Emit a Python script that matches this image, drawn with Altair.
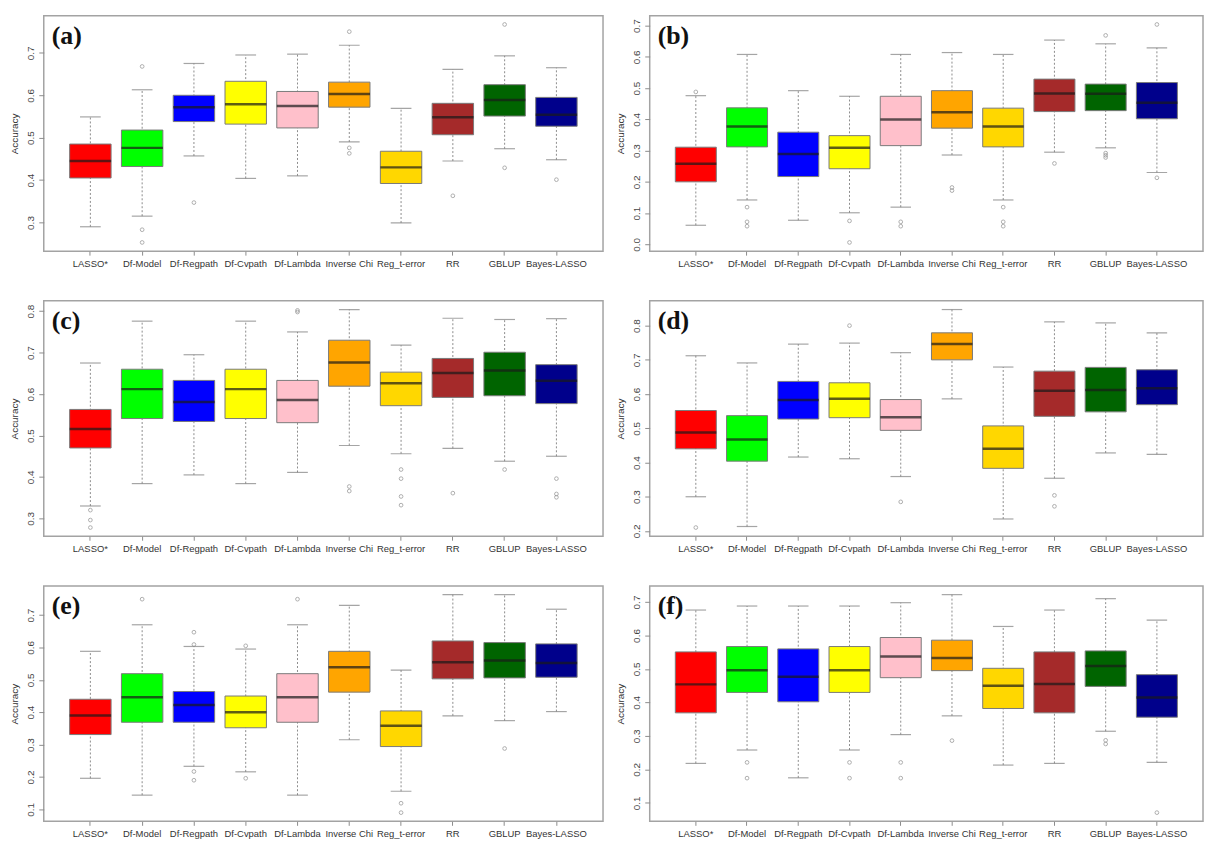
import altair as alt
import pandas as pd

METHODS = ["LASSO*", "Df-Model", "Df-Regpath", "Df-Cvpath", "Df-Lambda",
           "Inverse Chi", "Reg_t-error", "RR", "GBLUP", "Bayes-LASSO"]
COLORS = ["#FF0000", "#00FF00", "#0000FF", "#FFFF00", "#FFC0CB",
          "#FFA500", "#FFD700", "#A52A2A", "#006400", "#00008B"]
PANEL_LABELS = ["(a)", "(b)", "(c)", "(d)", "(e)", "(f)"]

# ---- panel (a)
A_LOW = [0.290, 0.315, 0.457, 0.404, 0.410, 0.490, 0.299, 0.445, 0.474, 0.448]
A_Q1 = [0.405, 0.432, 0.538, 0.532, 0.523, 0.572, 0.392, 0.507, 0.551, 0.527]
A_MED = [0.445, 0.476, 0.572, 0.579, 0.575, 0.603, 0.430, 0.548, 0.589, 0.554]
A_Q3 = [0.485, 0.518, 0.600, 0.633, 0.609, 0.631, 0.468, 0.581, 0.625, 0.595]
A_HIGH = [0.549, 0.613, 0.675, 0.695, 0.697, 0.718, 0.569, 0.661, 0.693, 0.665]
A_OUT = [[], [0.668, 0.283, 0.253], [0.347], [], [], [0.750, 0.476, 0.463],
         [], [0.363], [0.767, 0.429], [0.401]]
A_TICKS = [0.3, 0.4, 0.5, 0.6, 0.7]

# ---- panel (b)
B_LOW = [0.061, 0.142, 0.077, 0.101, 0.119, 0.286, 0.142, 0.295, 0.309, 0.230]
B_Q1 = [0.200, 0.312, 0.217, 0.242, 0.316, 0.372, 0.312, 0.425, 0.428, 0.402]
B_MED = [0.258, 0.377, 0.289, 0.309, 0.400, 0.423, 0.377, 0.483, 0.482, 0.453]
B_Q3 = [0.311, 0.437, 0.359, 0.348, 0.474, 0.492, 0.436, 0.529, 0.513, 0.518]
B_HIGH = [0.476, 0.608, 0.492, 0.474, 0.608, 0.614, 0.608, 0.654, 0.642, 0.629]
B_OUT = [[0.488], [0.119, 0.072, 0.058], [], [0.075, 0.006], [0.072, 0.058],
         [0.182, 0.172], [0.119, 0.072, 0.058], [0.259],
         [0.669, 0.292, 0.285, 0.278], [0.704, 0.213]]
B_TICKS = [0.0, 0.1, 0.2, 0.3, 0.4, 0.5, 0.6, 0.7]

# ---- panel (c)
C_LOW = [0.330, 0.384, 0.405, 0.384, 0.411, 0.476, 0.456, 0.469, 0.438, 0.450]
C_Q1 = [0.470, 0.541, 0.534, 0.541, 0.531, 0.619, 0.572, 0.592, 0.596, 0.577]
C_MED = [0.516, 0.612, 0.581, 0.612, 0.586, 0.676, 0.626, 0.651, 0.657, 0.632]
C_Q3 = [0.563, 0.660, 0.633, 0.660, 0.633, 0.730, 0.653, 0.686, 0.701, 0.671]
C_HIGH = [0.675, 0.776, 0.695, 0.776, 0.750, 0.804, 0.718, 0.783, 0.780, 0.782]
C_OUT = [[0.320, 0.296, 0.278], [], [], [], [0.802, 0.798], [0.377, 0.366],
         [0.418, 0.396, 0.353, 0.332], [0.361], [0.418], [0.396, 0.359, 0.351]]
C_TICKS = [0.3, 0.4, 0.5, 0.6, 0.7, 0.8]

# ---- panel (d)
D_LOW = [0.300, 0.213, 0.416, 0.411, 0.359, 0.586, 0.235, 0.354, 0.428, 0.424]
D_Q1 = [0.440, 0.404, 0.527, 0.531, 0.494, 0.700, 0.383, 0.535, 0.548, 0.569]
D_MED = [0.488, 0.467, 0.583, 0.586, 0.532, 0.746, 0.440, 0.610, 0.612, 0.617]
D_Q3 = [0.552, 0.537, 0.637, 0.633, 0.584, 0.779, 0.507, 0.667, 0.678, 0.671]
D_HIGH = [0.712, 0.691, 0.746, 0.749, 0.721, 0.847, 0.679, 0.811, 0.808, 0.779]
D_OUT = [[0.210], [], [], [0.800], [0.285], [], [], [0.304, 0.272], [], []]
D_TICKS = [0.2, 0.3, 0.4, 0.5, 0.6, 0.7, 0.8]

# ---- panel (e)
E_LOW = [0.196, 0.144, 0.233, 0.216, 0.144, 0.315, 0.156, 0.389, 0.374, 0.402]
E_Q1 = [0.331, 0.369, 0.369, 0.352, 0.369, 0.462, 0.294, 0.503, 0.506, 0.508]
E_MED = [0.390, 0.446, 0.422, 0.400, 0.446, 0.539, 0.358, 0.554, 0.560, 0.552]
E_Q3 = [0.440, 0.519, 0.464, 0.450, 0.519, 0.588, 0.404, 0.620, 0.615, 0.611]
E_HIGH = [0.588, 0.670, 0.603, 0.595, 0.670, 0.730, 0.530, 0.763, 0.763, 0.718]
E_OUT = [[], [0.749], [0.647, 0.609, 0.217, 0.190], [0.605, 0.196], [0.749],
         [], [0.119, 0.090], [], [0.288], []]
E_TICKS = [0.1, 0.2, 0.3, 0.4, 0.5, 0.6, 0.7]

# ---- panel (f)
F_LOW = [0.218, 0.258, 0.175, 0.258, 0.304, 0.360, 0.213, 0.218, 0.314, 0.221]
F_Q1 = [0.369, 0.430, 0.402, 0.430, 0.474, 0.495, 0.382, 0.369, 0.448, 0.356]
F_MED = [0.454, 0.496, 0.477, 0.496, 0.537, 0.533, 0.450, 0.455, 0.509, 0.415]
F_Q3 = [0.551, 0.567, 0.560, 0.567, 0.594, 0.586, 0.502, 0.551, 0.554, 0.483]
F_HIGH = [0.676, 0.688, 0.688, 0.688, 0.698, 0.722, 0.627, 0.676, 0.710, 0.646]
F_OUT = [[], [0.221, 0.174], [], [0.221, 0.174], [0.221, 0.174], [0.286],
         [], [], [0.287, 0.276], [0.071]]
F_TICKS = [0.1, 0.2, 0.3, 0.4, 0.5, 0.6, 0.7]

GRAY = "#8c8c8c"


def panel(label, low, q1, med, q3, high, out, ticks, width, height):
    df = pd.DataFrame({"method": METHODS, "low": low, "q1": q1, "med": med,
                       "q3": q3, "high": high})
    odf = pd.DataFrame([(m, v) for m, vs in zip(METHODS, out) for v in vs],
                       columns=["method", "value"])
    allv = list(low) + list(high) + [v for vs in out for v in vs]
    lo, hi = min(allv), max(allv)
    ext = 0.04 * (hi - lo)
    yscale = alt.Scale(domain=[lo - ext, hi + ext], nice=False, zero=False)
    yaxis = alt.Axis(title="Accuracy", values=ticks, format=".1f",
                     labelAngle=270, labelAlign="center", labelBaseline="bottom",
                     grid=False, domain=False, tickSize=5, tickColor=GRAY,
                     labelPadding=3, labelFontSize=10, titleFontSize=10,
                     titlePadding=6, labelColor="#444444")
    step = width / 10.8
    xenc = alt.X("method:N", sort=METHODS,
                 scale=alt.Scale(type="band", paddingInner=0, paddingOuter=0.4),
                 axis=alt.Axis(title=None, labelAngle=0, domain=False,
                               tickSize=4, tickColor=GRAY, labelPadding=3,
                               labelFontSize=9.5))
    cenc = alt.Color("method:N", scale=alt.Scale(domain=METHODS, range=COLORS),
                     legend=None)
    base = alt.Chart(df)
    whisk = base.mark_rule(color=GRAY, strokeDash=[2, 2], strokeWidth=1).encode(
        x=xenc, y=alt.Y("low:Q", scale=yscale, axis=yaxis), y2="high:Q")
    cap_lo = base.mark_tick(color="#7f7f7f", size=0.4 * step, thickness=1.2).encode(
        x=xenc, y=alt.Y("low:Q", scale=yscale, axis=yaxis))
    cap_hi = base.mark_tick(color="#7f7f7f", size=0.4 * step, thickness=1.2).encode(
        x=xenc, y=alt.Y("high:Q", scale=yscale, axis=yaxis))
    box = base.mark_bar(width=alt.RelativeBandSize(0.8), stroke="#7a7a7a",
                        strokeWidth=1).encode(
        x=xenc, y=alt.Y("q1:Q", scale=yscale, axis=yaxis), y2="q3:Q",
        color=cenc)
    medl = base.mark_tick(color="#1a1a1a", size=0.8 * step, thickness=2.5).encode(
        x=xenc, y=alt.Y("med:Q", scale=yscale, axis=yaxis))
    pts = alt.Chart(odf).mark_point(shape="circle", filled=False, size=14,
                                    color=GRAY, strokeWidth=1).encode(
        x=xenc, y=alt.Y("value:Q", scale=yscale, axis=yaxis))
    lab = alt.Chart(pd.DataFrame({"label": [label]})).mark_text(
        font="Liberation Serif", fontSize=26, fontWeight="bold", align="left",
        baseline="middle", color="#111").encode(
        x=alt.value(8), y=alt.value(20), text="label:N")
    return alt.layer(whisk, cap_lo, cap_hi, box, medl, pts, lab).properties(
        width=width, height=height)


W1, W2, H = 563, 557, 237
pa = panel(PANEL_LABELS[0], A_LOW, A_Q1, A_MED, A_Q3, A_HIGH, A_OUT, A_TICKS, W1, H)
pb = panel(PANEL_LABELS[1], B_LOW, B_Q1, B_MED, B_Q3, B_HIGH, B_OUT, B_TICKS, W2, H)
pc = panel(PANEL_LABELS[2], C_LOW, C_Q1, C_MED, C_Q3, C_HIGH, C_OUT, C_TICKS, W1, H)
pd_ = panel(PANEL_LABELS[3], D_LOW, D_Q1, D_MED, D_Q3, D_HIGH, D_OUT, D_TICKS, W2, H)
pe = panel(PANEL_LABELS[4], E_LOW, E_Q1, E_MED, E_Q3, E_HIGH, E_OUT, E_TICKS, W1, H)
pf = panel(PANEL_LABELS[5], F_LOW, F_Q1, F_MED, F_Q3, F_HIGH, F_OUT, F_TICKS, W2, H)

chart = alt.vconcat(
    alt.hconcat(pa, pb, spacing=11),
    alt.hconcat(pc, pd_, spacing=11),
    alt.hconcat(pe, pf, spacing=11),
    spacing=31,
).properties(
    padding={"left": 1, "top": 4, "right": 0, "bottom": 0},
    background="white",
).configure_view(
    stroke="#a3a3a3", strokeWidth=1.5
).configure_axis(
    labelFont="Liberation Sans", titleFont="Liberation Sans",
    labelColor="#333333", titleColor="#333333", titleFontWeight="normal",
)

chart.save("out.html", embed_options={"renderer": "svg", "actions": False})
